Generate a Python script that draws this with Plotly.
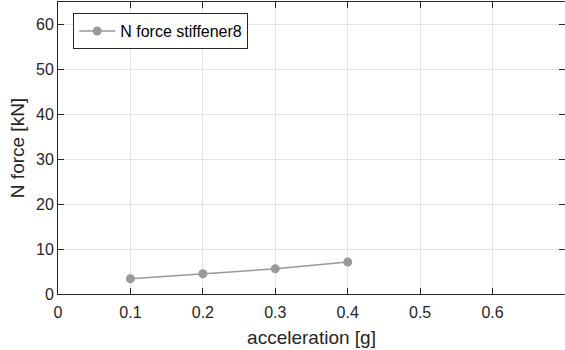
import plotly.graph_objects as go

accel = [0.1, 0.2, 0.3, 0.4]
n_force = [3.4, 4.5, 5.6, 7.1]
series_name = "N force stiffener8"
x_ticks = [0, 0.1, 0.2, 0.3, 0.4, 0.5, 0.6]
x_tick_labels = ["0", "0.1", "0.2", "0.3", "0.4", "0.5", "0.6"]
y_ticks = [0, 10, 20, 30, 40, 50, 60]

fig = go.Figure()
fig.add_trace(go.Scatter(
    x=accel, y=n_force, mode="lines+markers", name=series_name,
    line=dict(color="#999999", width=1.5),
    marker=dict(color="#999999", size=9),
))

axis_common = dict(
    showline=True, linecolor="#262626", linewidth=1, mirror="ticks",
    ticks="inside", ticklen=6, tickcolor="#262626",
    showgrid=True, gridcolor="#e3e3e3", gridwidth=1, zeroline=False,
    automargin=False,
    tickfont=dict(family="Liberation Sans, Arial", size=16, color="#262626"),
)

fig.update_layout(
    width=565, height=350,
    margin=dict(l=58, r=0, t=2, b=56),
    plot_bgcolor="white", paper_bgcolor="white",
    font=dict(family="Liberation Sans, Arial", color="#262626"),
    xaxis=dict(range=[0, 0.7], tickvals=x_ticks, ticktext=x_tick_labels,
               ticklabelstandoff=4,
               title=dict(text="acceleration [g]", font=dict(size=19), standoff=10),
               **axis_common),
    yaxis=dict(range=[0, 65], tickvals=y_ticks,
               title=dict(text="N force [kN]", font=dict(size=19), standoff=6),
               **axis_common),
    showlegend=True,
    legend=dict(x=0.03, y=0.962, xanchor="left", yanchor="top",
                bgcolor="white", bordercolor="#262626", borderwidth=1,
                font=dict(size=16, color="#000000"),
                itemwidth=36, tracegroupgap=0),
)

fig.write_html(
    "out.html",
    config={"displayModeBar": False},
    post_script="document.body.style.margin='0';document.documentElement.style.overflow='hidden';",
)
